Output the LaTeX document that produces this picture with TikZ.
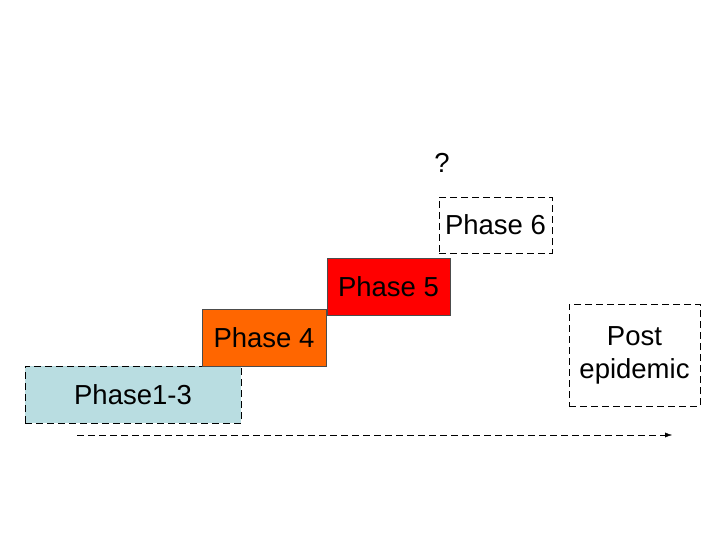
\documentclass[tikz,border=0pt]{standalone}
\usepackage{fontspec}
\setmainfont{Liberation Sans}
\usepackage[dvipsnames]{xcolor}
\usetikzlibrary{arrows.meta}
\definecolor{phaseblue}{HTML}{B9DDE1}
\definecolor{phaseorange}{HTML}{FF6600}
\definecolor{phasered}{HTML}{FF0000}

\begin{document}
\begin{tikzpicture}[x=1pt,y=-1pt,
  phasebox/.style={draw, rectangle, inner sep=0pt, font=\fontsize{27.5}{33}\selectfont},
  dashbox/.style={phasebox, dash pattern=on 7pt off 4pt, thin},
  fullbox/.style={phasebox, draw=black!70, thin}]
%cadre
\useasboundingbox (0,0) rectangle (720,540);

%les phases
\node[dashbox, fill=phaseblue, minimum width=216pt, minimum height=57pt] (p13) at (133,394.5) {Phase1-3};
\node[fullbox, fill=phaseorange, minimum width=124pt, minimum height=57pt] (p4) at (264,337.5) {Phase 4};
\node[fullbox, fill=phasered, minimum width=123pt, minimum height=57pt] (p5) at (388.5,286.5) {Phase 5};
\node[dashbox, fill=white, minimum width=113pt, minimum height=56pt] (p6) at (495.5,225) {Phase 6};
\node[font=\fontsize{27.5}{33}\selectfont] (q) at (442,163) {?};
\node[dashbox, fill=white, minimum width=131pt, minimum height=102pt, align=center] (post) at (634.5,355) {Post\\epidemic};

%axe du temps
\coordinate (t0) at (77,435);
\coordinate (t1) at (672,435);
\draw[dash pattern=on 7pt off 4pt, thin, -{Latex[length=7pt,width=5pt]}] (t0) -- (t1);

\end{tikzpicture}
\end{document}
